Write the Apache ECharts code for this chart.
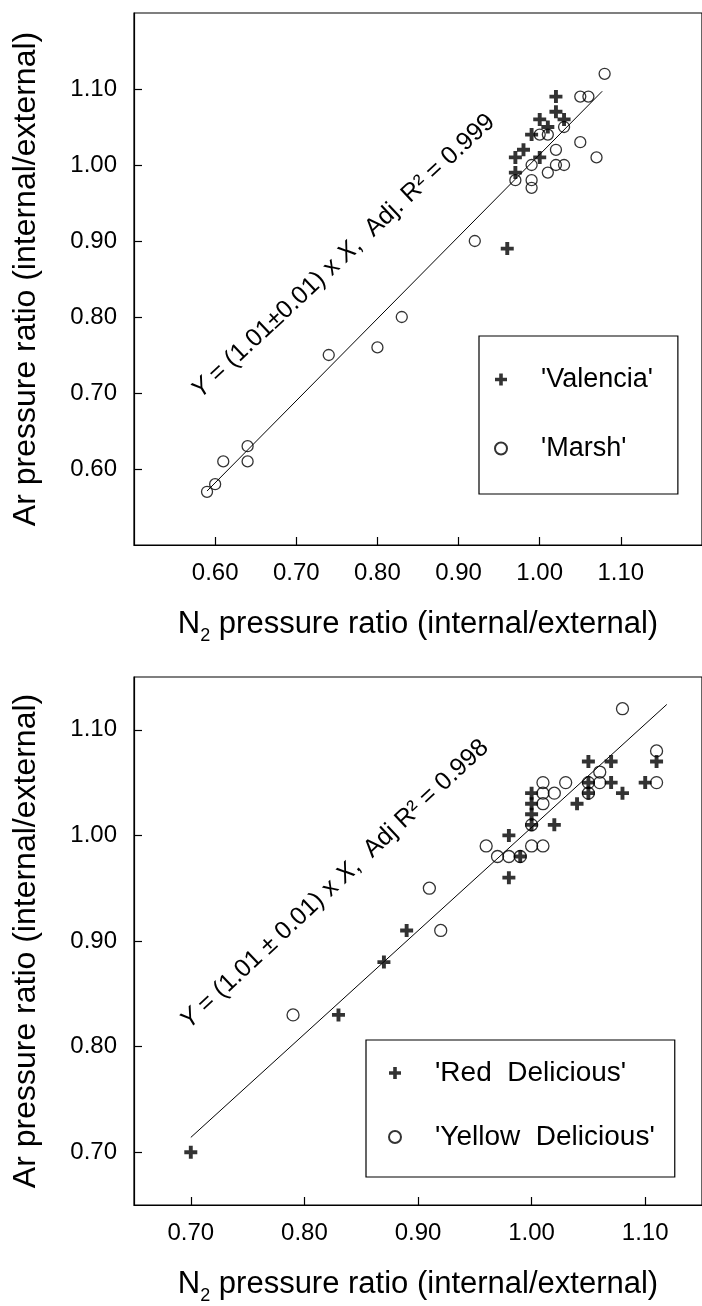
<!DOCTYPE html>
<html>
<head>
<meta charset="utf-8">
<script src="https://cdn.jsdelivr.net/npm/echarts@6/dist/echarts.min.js"></script>
<style>
  html, body { margin: 0; padding: 0; background: #fff; }
  #chart { width: 702px; height: 1306px; }
</style>
</head>
<body>
<div id="chart"></div>
<script>
// --- top panel: oranges ---
var valenciaX = [1.02, 1.02, 1.03, 1.00, 1.01, 0.99, 0.98, 0.97, 1.00, 0.97, 0.96];
var valenciaY = [1.09, 1.07, 1.06, 1.06, 1.05, 1.04, 1.02, 1.01, 1.01, 0.99, 0.89];
var marshX = [1.08, 1.05, 1.06, 1.03, 1.00, 1.01, 1.05, 1.02, 1.07, 0.99, 1.02, 1.03, 1.01,
              0.99, 0.99, 0.97, 0.92, 0.83, 0.80, 0.74, 0.64, 0.64, 0.61, 0.60, 0.59];
var marshY = [1.12, 1.09, 1.09, 1.05, 1.04, 1.04, 1.03, 1.02, 1.01, 1.00, 1.00, 1.00, 0.99,
              0.98, 0.97, 0.98, 0.90, 0.80, 0.76, 0.75, 0.63, 0.61, 0.61, 0.58, 0.57];
var fitTopX = [0.59, 1.077];
var fitTopY = [0.571, 1.097];
var ticksTop = [0.6, 0.7, 0.8, 0.9, 1.0, 1.1];

// --- bottom panel: apples ---
var redX = [0.70, 0.83, 0.87, 0.89, 0.98, 0.98, 0.99, 1.00, 1.00, 1.00, 1.00, 1.02, 1.04,
            1.05, 1.05, 1.05, 1.07, 1.07, 1.08, 1.10, 1.11];
var redY = [0.70, 0.83, 0.88, 0.91, 1.00, 0.96, 0.98, 1.04, 1.03, 1.02, 1.01, 1.01, 1.03,
            1.07, 1.05, 1.04, 1.07, 1.05, 1.04, 1.05, 1.07];
var yellowX = [0.79, 0.91, 0.92, 0.96, 0.97, 0.98, 0.99, 1.00, 1.01, 1.00, 1.01, 1.01, 1.01,
               1.02, 1.03, 1.05, 1.05, 1.06, 1.06, 1.08, 1.11, 1.11];
var yellowY = [0.83, 0.95, 0.91, 0.99, 0.98, 0.98, 0.98, 0.99, 0.99, 1.01, 1.05, 1.04, 1.03,
               1.04, 1.05, 1.04, 1.05, 1.06, 1.05, 1.12, 1.08, 1.05];
var fitBotX = [0.70, 1.119];
var fitBotY = [0.714, 1.124];
var ticksBot = [0.7, 0.8, 0.9, 1.0, 1.1];

// regression text anchors (data coords of the label centre)
var noteTop = [0.758, 0.880];
var noteBot = [0.8265, 0.9537];

var FONT = '"Liberation Sans", Arial, sans-serif';
var PLUS = 'path://M2.8,0H5.2V2.8H8V5.2H5.2V8H2.8V5.2H0V2.8H2.8Z';

function zip(xs, ys) {
  return xs.map(function (x, i) { return [x, ys[i]]; });
}

function fmt(v) { return v.toFixed(2); }

var N2_NAME = '{n|N}{s|2}{n| pressure ratio (internal/external)}';
var AR_NAME = 'Ar pressure ratio (internal/external)';

function xAxis(grid, min, max, ticks) {
  return {
    gridIndex: grid, type: 'value', min: min, max: max,
    axisLine: { onZero: false, lineStyle: { color: '#000', width: 1.2 } },
    axisTick: { inside: true, length: 8, customValues: ticks, lineStyle: { color: '#000', width: 1.2 } },
    axisLabel: { customValues: ticks, formatter: fmt, fontSize: 24, color: '#000', margin: 16, fontFamily: FONT },
    splitLine: { show: false },
    name: N2_NAME, nameLocation: 'middle', nameGap: 58,
    nameTextStyle: {
      fontSize: 31, color: '#000', fontFamily: FONT,
      rich: {
        n: { fontSize: 31, color: '#000', fontFamily: FONT },
        s: { fontSize: 18, color: '#000', fontFamily: FONT, padding: [24, 0, 0, 0] }
      }
    }
  };
}

function yAxis(grid, min, max, ticks) {
  return {
    gridIndex: grid, type: 'value', min: min, max: max,
    axisLine: { onZero: false, lineStyle: { color: '#000', width: 1.2 } },
    axisTick: { inside: true, length: 8, customValues: ticks, lineStyle: { color: '#000', width: 1.2 } },
    axisLabel: { customValues: ticks, formatter: fmt, fontSize: 24, color: '#000', margin: 17, fontFamily: FONT },
    splitLine: { show: false },
    name: AR_NAME, nameLocation: 'middle', nameGap: 92,
    nameTextStyle: { fontSize: 32, color: '#000', fontFamily: FONT }
  };
}

function legend(names, left, top, gap, padding, size) {
  return {
    data: names, orient: 'vertical', left: left, top: top,
    itemWidth: 12, itemHeight: 12, itemGap: gap, padding: padding,
    borderColor: '#000', borderWidth: 1.2, backgroundColor: '#fff',
    formatter: function (n) { return '{g|}' + n; },
    textStyle: { fontSize: size, color: '#000', fontFamily: FONT, rich: { g: { width: 29 } } }
  };
}

var plusStyle = { color: '#000' };
var ringStyle = { color: 'rgba(0,0,0,0)', borderColor: '#000', borderWidth: 1.3 };

function fitLine(xi, xs, ys) {
  return {
    type: 'line', xAxisIndex: xi, yAxisIndex: xi, data: zip(xs, ys),
    symbol: 'none', silent: true, z: 1,
    lineStyle: { color: '#000', width: 1 }
  };
}

var chart = echarts.init(document.getElementById('chart'));
chart.setOption({
  animation: false,
  backgroundColor: '#fff',
  grid: [
    { left: 134, top: 13, width: 572, height: 532, show: true, borderColor: '#000', borderWidth: 1.2 },
    { left: 134, top: 677, width: 569, height: 530, show: true, borderColor: '#000', borderWidth: 1.2 }
  ],
  xAxis: [xAxis(0, 0.5, 1.2, ticksTop), xAxis(1, 0.65, 1.15, ticksBot)],
  yAxis: [yAxis(0, 0.5, 1.2, ticksTop), yAxis(1, 0.65, 1.15, ticksBot)],
  legend: [
    legend(["'Valencia'", "'Marsh'"], 479, 336, 42, [30, 25, 32, 15], 27),
    legend(["'Red  Delicious'", "'Yellow  Delicious'"], 366, 1040, 36, [19, 20, 26, 22], 28)
  ],
  series: [
    fitLine(0, fitTopX, fitTopY),
    { name: "'Valencia'", type: 'scatter', xAxisIndex: 0, yAxisIndex: 0, data: zip(valenciaX, valenciaY),
      symbol: PLUS, symbolSize: 13, itemStyle: plusStyle, z: 3 },
    { name: "'Marsh'", type: 'scatter', xAxisIndex: 0, yAxisIndex: 0, data: zip(marshX, marshY),
      symbol: 'circle', symbolSize: 11, itemStyle: ringStyle, z: 2 },
    fitLine(1, fitBotX, fitBotY),
    { name: "'Red  Delicious'", type: 'scatter', xAxisIndex: 1, yAxisIndex: 1, data: zip(redX, redY),
      symbol: PLUS, symbolSize: 13, itemStyle: plusStyle, z: 3 },
    { name: "'Yellow  Delicious'", type: 'scatter', xAxisIndex: 1, yAxisIndex: 1, data: zip(yellowX, yellowY),
      symbol: 'circle', symbolSize: 12, itemStyle: ringStyle, z: 2 }
  ]
});

// rotated regression equations
function note(grid, at, text) {
  var p = chart.convertToPixel({ gridIndex: grid }, at);
  return {
    type: 'text', x: p[0], y: p[1], rotation: 43 * Math.PI / 180, z: 10,
    style: {
      text: text, fill: '#000', fontSize: 25, fontFamily: FONT,
      align: 'center', verticalAlign: 'middle',
      rich: { i: { fontSize: 25, fontFamily: FONT, fontStyle: 'italic', fill: '#000' } }
    }
  };
}

chart.setOption({
  graphic: [
    note(0, noteTop, '{i|Y} = (1.01\u00b10.01) x {i|X},  Adj. R\u00b2 = 0.999'),
    note(1, noteBot, '{i|Y} = (1.01 \u00b1 0.01) x {i|X},  Adj R\u00b2 = 0.998')
  ]
});
</script>
</body>
</html>
